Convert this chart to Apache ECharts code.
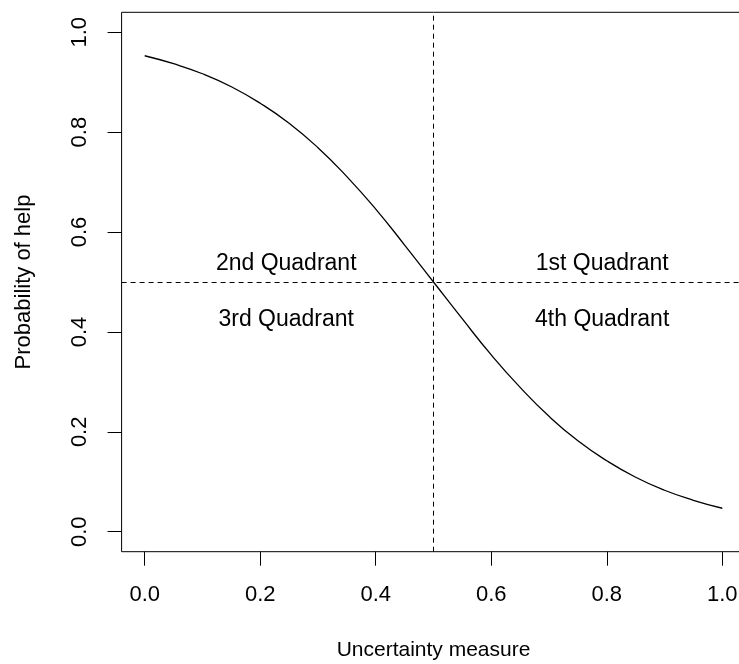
<!DOCTYPE html>
<html>
<head>
<meta charset="utf-8">
<script src="https://cdn.jsdelivr.net/npm/echarts@6/dist/echarts.min.js"></script>
<style>
  html, body { margin: 0; padding: 0; background: #fff; overflow: hidden; }
  #chart { width: 750px; height: 664px; }
</style>
</head>
<body>
<div id="chart"></div>
<script>
// values
const uncertainty = [0, 0.05, 0.1, 0.15, 0.2, 0.25, 0.3, 0.35, 0.4, 0.45, 0.5,
  0.55, 0.6, 0.65, 0.7, 0.75, 0.8, 0.85, 0.9, 0.95, 1.0];
const probHelp = [0.953, 0.937, 0.917, 0.891, 0.858, 0.818, 0.769, 0.711, 0.646, 0.574, 0.5,
  0.426, 0.354, 0.289, 0.231, 0.182, 0.142, 0.109, 0.083, 0.063, 0.047];
const tickValues = [0, 0.2, 0.4, 0.6, 0.8, 1.0];
const cutX = 0.5;
const cutY = 0.5;
const quadrantLabels = [
  { name: '2nd Quadrant', x: 0.245, y: 0.537 },
  { name: '1st Quadrant', x: 0.792, y: 0.537 },
  { name: '3rd Quadrant', x: 0.245, y: 0.425 },
  { name: '4th Quadrant', x: 0.792, y: 0.425 },
];

const font = 'Liberation Sans, Arial, sans-serif';

let myChart = echarts.init(document.getElementById('chart'));
let option;

option = {
  animation: false,
  textStyle: { fontFamily: font, color: '#000' },
  grid: {
    show: true,
    left: 121.6,
    top: 12.3,
    width: 623.8,
    height: 539.4,
    borderColor: '#000',
    borderWidth: 1,
    containLabel: false,
    outerBoundsMode: 'none',
  },
  xAxis: {
    type: 'value',
    min: -0.04,
    max: 1.04,
    name: 'Uncertainty measure',
    nameLocation: 'middle',
    nameGap: 88,
    nameTextStyle: { fontSize: 21, color: '#000', fontFamily: font },
    axisLine: { show: false, onZero: false },
    splitLine: { show: false },
    axisTick: {
      show: true,
      length: 14,
      customValues: tickValues,
      lineStyle: { color: '#000', width: 1 },
    },
    axisLabel: {
      customValues: tickValues,
      margin: 32,
      fontSize: 22,
      color: '#000',
      fontFamily: font,
      formatter: (v) => v.toFixed(1),
    },
  },
  yAxis: {
    type: 'value',
    min: -0.04,
    max: 1.04,
    name: 'Probability of help',
    nameLocation: 'middle',
    nameGap: 87,
    nameTextStyle: { fontSize: 22, color: '#000', fontFamily: font },
    axisLine: { show: false, onZero: false },
    splitLine: { show: false },
    axisTick: {
      show: true,
      length: 14,
      customValues: tickValues,
      lineStyle: { color: '#000', width: 1 },
    },
    axisLabel: {
      customValues: tickValues,
      rotate: 90,
      margin: 31,
      fontSize: 22,
      color: '#000',
      fontFamily: font,
      formatter: (v) => v.toFixed(1),
    },
  },
  series: [
    {
      name: 'curve',
      type: 'line',
      data: uncertainty.map((x, i) => [x, probHelp[i]]),
      smooth: true,
      showSymbol: false,
      lineStyle: { color: '#000', width: 1.3 },
      markLine: {
        silent: true,
        symbol: ['none', 'none'],
        label: { show: false },
        lineStyle: { color: '#000', width: 1, type: [5, 4] },
        data: [{ xAxis: cutX }, { yAxis: cutY }],
      },
    },
    {
      name: 'quadrants',
      type: 'scatter',
      symbolSize: 0,
      itemStyle: { opacity: 1 },
      data: quadrantLabels.map((q) => ({ name: q.name, value: [q.x, q.y] })),
      label: {
        show: true,
        position: 'inside',
        formatter: (p) => p.name,
        fontSize: 23,
        color: '#000',
        opacity: 1,
        fontFamily: font,
      },
    },
  ],
};

option && myChart.setOption(option);
</script>
</body>
</html>
